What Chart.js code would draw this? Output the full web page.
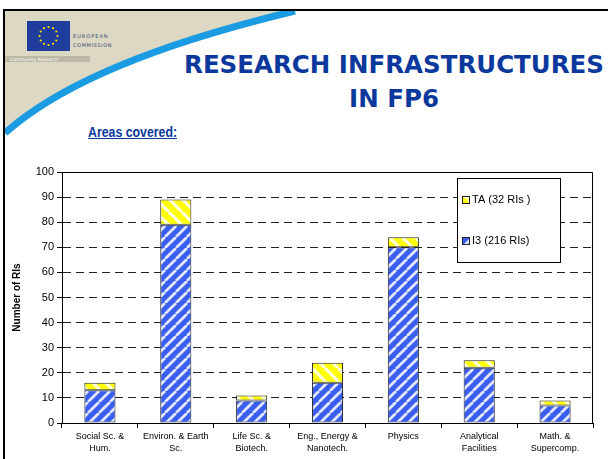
<!DOCTYPE html>
<html>
<head>
<meta charset="utf-8">
<script src="https://cdn.jsdelivr.net/npm/chart.js@4.4.1/dist/chart.umd.min.js"></script>
<style>
  body { margin:0; width:608px; height:459px; overflow:hidden; background:#fff; position:relative; font-family:"Liberation Sans", Arial, sans-serif; }
  #frame { position:absolute; left:3px; top:9px; width:700px; height:600px; border-left:2px solid #000; border-top:2px solid #000; }
  #head { position:absolute; left:5px; top:11px; }
  #title { position:absolute; left:174px; width:440px; top:48px; text-align:center; color:#0a389c; font:bold 24.5px "DejaVu Sans", sans-serif; line-height:34px; }
  #areas { position:absolute; left:88px; top:124px; color:#0a389c; font:bold 14px "Liberation Sans", Arial, sans-serif; text-decoration:underline; transform:scaleX(0.88); transform-origin:0 0; }
  #wrap { position:absolute; left:0; top:160px; width:608px; height:299px; }
</style>
</head>
<body>
<div id="frame"></div>
<svg id="head" width="603" height="150">
  <!-- beige hjoerne med den blaa bue -->
  <path d="M0,0 L290,0 Q80,50 0,122 Z" fill="#dcd8c3"/>
  <path d="M0,122 Q80,50 290,0" fill="none" stroke="#1a9be2" stroke-width="7"/>
  <!-- logo -->
  <rect x="22" y="10" width="43" height="30" fill="#1f3d9c"/>
  <g fill="#ffe000" id="stars"></g>
  <text x="68" y="27" font-size="5" fill="#3a4a7a" font-family="DejaVu Sans" letter-spacing="1">EUROPEAN</text>
  <text x="68" y="36" font-size="5" fill="#3a4a7a" font-family="DejaVu Sans" letter-spacing="0.6">COMMISSION</text>
  <rect x="0" y="45" width="85" height="6" fill="#bdb9a6"/>
  <text x="5" y="50" font-size="4.5" fill="#fff" font-family="DejaVu Sans">Community Research</text>
</svg>
<div id="title">RESEARCH INFRASTRUCTURES<br>IN FP6</div>
<div id="areas">Areas covered:</div>
<div id="wrap"><canvas id="chartCanvas" width="608" height="299"></canvas></div>

<script>
//de syv omraader og de to serier (I3 nederst, TA ovenpaa)
const categories = [
  ['Social Sc. &', 'Hum.'],
  ['Environ. & Earth', 'Sc.'],
  ['Life Sc. &', 'Biotech.'],
  ['Eng., Energy &', 'Nanotech.'],
  ['Physics'],
  ['Analytical', 'Facilities'],
  ['Math. &', 'Supercomp.']
]
const i3Values = [13, 79, 9, 16, 70, 22, 7]
const taValues = [3, 10, 2, 8, 4, 3, 2]
const seriesLabels = ['I3 (216 RIs)', 'TA (32 RIs )']
const yMax = 100
const yStep = 10

//stjernerne i EU-flaget
const stars = document.getElementById('stars')
for (let k = 0; k < 12; k++) {
  const a = k * Math.PI / 6
  const c = document.createElementNS('http://www.w3.org/2000/svg', 'circle')
  c.setAttribute('cx', 43.5 + 9 * Math.cos(a))
  c.setAttribute('cy', 25 + 9 * Math.sin(a))
  c.setAttribute('r', 1.1)
  stars.appendChild(c)
}

//skraa hvide striber som fyld
function stripes(bg, size, dir) {
  const c = document.createElement('canvas')
  c.width = c.height = size
  const g = c.getContext('2d')
  g.fillStyle = bg
  g.fillRect(0, 0, size, size)
  g.strokeStyle = 'rgba(255,255,255,0.85)'
  g.lineWidth = size * 0.25
  for (let k = -1; k <= 1; k++) {
    g.beginPath()
    if (dir > 0) { g.moveTo(k * size, size); g.lineTo(k * size + size, 0) }
    else { g.moveTo(k * size, 0); g.lineTo(k * size + size, size) }
    g.stroke()
  }
  return g.createPattern(c, 'repeat')
}
const bluePattern = stripes('#3a5ff0', 11, 1)
const yellowPattern = stripes('#ffff00', 13, -1)

//ramme om plotomraadet og forklaringen
const framePlugin = {
  id: 'frame',
  afterDatasetsDraw(chart) {
    const a = chart.chartArea, ctx = chart.ctx
    ctx.save()
    ctx.strokeStyle = '#000'
    ctx.lineWidth = 1
    ctx.beginPath()
    ctx.moveTo(a.left, a.top + 0.5)
    ctx.lineTo(a.right - 0.5, a.top + 0.5)
    ctx.lineTo(a.right - 0.5, a.bottom)
    ctx.stroke()
    ctx.restore()
  },
  afterDraw(chart) {
    const a = chart.chartArea, ctx = chart.ctx
    const x = a.right - 136, y = a.top + 6, w = 103, h = 84
    ctx.save()
    ctx.fillStyle = '#fff'
    ctx.fillRect(x, y, w, h)
    ctx.strokeStyle = '#000'
    ctx.lineWidth = 1
    ctx.strokeRect(x + 0.5, y + 0.5, w, h)
    ctx.font = '11px "Liberation Sans", Arial, sans-serif'
    ctx.textBaseline = 'middle'
    const items = [[1, 22], [0, 63]]
    items.forEach(([d, dy]) => {
      const ds = chart.data.datasets[d]
      ctx.fillStyle = ds.backgroundColor
      ctx.fillRect(x + 5, y + dy - 4, 8, 8)
      ctx.strokeStyle = '#222'
      ctx.strokeRect(x + 5.5, y + dy - 3.5, 7, 7)
      ctx.fillStyle = '#000'
      ctx.fillText(ds.label, x + 15, y + dy)
    })
    ctx.restore()
  }
}

const chart = new Chart(document.getElementById('chartCanvas'), {
  type: 'bar',
  data: {
    labels: categories,
    datasets: [
      { label: seriesLabels[0], data: i3Values, backgroundColor: bluePattern, borderColor: '#222', borderWidth: 1, borderSkipped: false },
      { label: seriesLabels[1], data: taValues, backgroundColor: yellowPattern, borderColor: '#222', borderWidth: 1, borderSkipped: false }
    ]
  },
  options: {
    responsive: false,
    animation: false,
    layout: { padding: { top: 12, right: 15, left: 0, bottom: 0 } },
    datasets: { bar: { barPercentage: 0.41, categoryPercentage: 1 } },
    plugins: { legend: { display: false }, tooltip: { enabled: false } },
    scales: {
      x: {
        stacked: true,
        afterFit: s => { s.height = 36 },
        grid: { display: true, drawOnChartArea: false, offset: true, tickLength: 5, color: '#000' },
        border: { color: '#000', width: 1 },
        ticks: { color: '#000', font: { size: 9, family: '"Liberation Sans", Arial, sans-serif', lineHeight: 1.35 }, maxRotation: 0, padding: 2 }
      },
      y: {
        stacked: true,
        min: 0,
        max: yMax,
        afterFit: s => { s.width = 62 },
        ticks: { stepSize: yStep, color: '#000', font: { size: 11, family: '"Liberation Sans", Arial, sans-serif' }, padding: 3 },
        grid: { color: '#222', lineWidth: 1, tickLength: 5, tickColor: '#000' },
        border: { color: '#000', width: 1, dash: [8, 5] },
        title: { display: true, text: 'Number of RIs', color: '#000', font: { size: 10, weight: 'bold', family: '"Liberation Sans", Arial, sans-serif' }, padding: { top: 11, bottom: 0 } }
      }
    }
  },
  plugins: [framePlugin]
})
</script>
</body>
</html>
